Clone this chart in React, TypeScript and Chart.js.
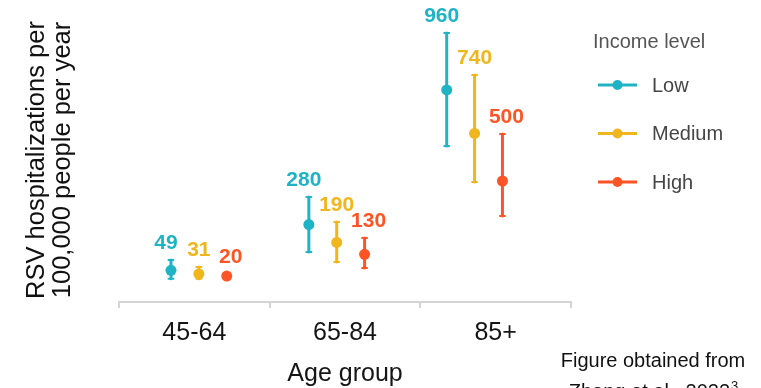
import React, { useEffect, useRef } from "react";
import { Chart, registerables } from "chart.js";

Chart.register(...registerables);

const ageGroups = ["45-64", "65-84", "85+"];
const seriesNames = ["Low", "Medium", "High"];
const seriesColors = ["#1fb4c5", "#efb61d", "#ff5526"];

// central estimates per income level, by age group
const lowValues = [49, 280, 960];
const mediumValues = [31, 190, 740];
const highValues = [20, 130, 500];

// uncertainty intervals (lower / upper)
const lowLower = [6, 141, 677];
const lowUpper = [101, 419, 1247];
const mediumLower = [7, 91, 495];
const mediumUpper = [66, 293, 1035];
const highLower = [13, 61, 323];
const highUpper = [28, 212, 737];

const legendTitle = "Income level";
const yTitle = ["RSV hospitalizations per", "100,000 people per year"];
const xTitle = "Age group";
const noteLines = ["Figure obtained from", "Zheng et al., 2022"];
const noteSup = "3";

// x positions (in category units) where the dot groups sit, and dodge between income levels
const groupPositions = [0.03, 0.945, 1.86];
const dodge = 0.185;
const labelShift = [-5, 0, 4];

const FONT = "'Liberation Sans', Arial, Helvetica, sans-serif";

const values = [lowValues, mediumValues, highValues];
const lowers = [lowLower, mediumLower, highLower];
const uppers = [lowUpper, mediumUpper, highUpper];

const xOf = (si: number, gi: number) => groupPositions[gi] + (si - 1) * dodge;

const errorBarPlugin = {
  id: "errorBars",
  beforeDatasetsDraw(chart: any) {
    const { ctx } = chart;
    const xs = chart.scales.x;
    const ys = chart.scales.y;
    ctx.save();
    values.forEach((vals, si) => {
      vals.forEach((_v, gi) => {
        const px = xs.getPixelForValue(xOf(si, gi));
        const top = ys.getPixelForValue(uppers[si][gi]);
        const bot = ys.getPixelForValue(lowers[si][gi]);
        ctx.strokeStyle = seriesColors[si];
        ctx.lineCap = "round";
        ctx.lineWidth = 3;
        ctx.beginPath();
        ctx.moveTo(px, top);
        ctx.lineTo(px, bot);
        ctx.stroke();
        ctx.lineWidth = 2;
        ctx.beginPath();
        ctx.moveTo(px - 2.5, top);
        ctx.lineTo(px + 2.5, top);
        ctx.moveTo(px - 2.5, bot);
        ctx.lineTo(px + 2.5, bot);
        ctx.stroke();
      });
    });
    ctx.restore();
  },
  afterDatasetsDraw(chart: any) {
    const { ctx } = chart;
    const xs = chart.scales.x;
    const ys = chart.scales.y;
    ctx.save();
    ctx.font = `bold 21px ${FONT}`;
    ctx.textAlign = "center";
    ctx.textBaseline = "middle";
    values.forEach((vals, si) => {
      vals.forEach((v, gi) => {
        const px = xs.getPixelForValue(xOf(si, gi)) + labelShift[si];
        const top = ys.getPixelForValue(uppers[si][gi]);
        ctx.fillStyle = seriesColors[si];
        ctx.fillText(String(v), px, top - 17);
      });
    });
    ctx.restore();
  },
};

const legendPlugin = {
  id: "customLegend",
  afterDraw(chart: any) {
    const { ctx } = chart;
    ctx.save();
    ctx.textBaseline = "middle";
    ctx.textAlign = "left";
    ctx.fillStyle = "#555555";
    ctx.font = `20px ${FONT}`;
    ctx.fillText(legendTitle, 593, 42);
    chart.data.datasets.forEach((ds: any, i: number) => {
      const y = 85 + i * 48.5;
      ctx.strokeStyle = ds.backgroundColor;
      ctx.lineWidth = 3;
      ctx.beginPath();
      ctx.moveTo(598, y);
      ctx.lineTo(637, y);
      ctx.stroke();
      ctx.fillStyle = ds.backgroundColor;
      ctx.beginPath();
      ctx.arc(617.5, y, 5, 0, Math.PI * 2);
      ctx.fill();
      ctx.fillStyle = "#454545";
      ctx.font = `20px ${FONT}`;
      ctx.fillText(ds.label, 652, y + 1);
    });
    // source note
    ctx.fillStyle = "#111111";
    ctx.textBaseline = "alphabetic";
    ctx.textAlign = "center";
    ctx.font = `20px ${FONT}`;
    ctx.fillText(noteLines[0], 653, 367);
    const w2 = ctx.measureText(noteLines[1]).width;
    ctx.font = `13px ${FONT}`;
    const ws = ctx.measureText(noteSup).width;
    const start = 653 - (w2 + ws) / 2;
    ctx.textAlign = "left";
    ctx.font = `20px ${FONT}`;
    ctx.fillText(noteLines[1], start, 398);
    ctx.font = `13px ${FONT}`;
    ctx.fillText(noteSup, start + w2 + 1, 390);
    ctx.restore();
  },
};

export default function App() {
  const ref = useRef<HTMLCanvasElement | null>(null);
  useEffect(() => {
    document.body.style.margin = "0";
    const canvas = ref.current;
    if (!canvas) return;
    const chart = new Chart(canvas, {
      type: "scatter",
      data: {
        datasets: values.map((vals, si) => ({
          label: seriesNames[si],
          data: vals.map((v, gi) => ({ x: xOf(si, gi), y: v })),
          backgroundColor: seriesColors[si],
          borderColor: seriesColors[si],
          pointRadius: 5.5,
          pointHoverRadius: 5.5,
          borderWidth: 0,
          xAxisID: "x",
          yAxisID: "y",
        })),
      },
      options: {
        animation: false,
        responsive: false,
        layout: { padding: { top: 18, right: 190, bottom: 0, left: 0 } },
        plugins: {
          legend: { display: false },
          tooltip: { enabled: false },
          title: { display: false },
        },
        scales: {
          x: { type: "linear", min: -0.5, max: 2.5, display: false },
          xc: {
            type: "category",
            labels: ageGroups,
            position: "bottom",
            offset: true,
            grid: {
              offset: true,
              drawOnChartArea: false,
              tickLength: 6,
              color: "#d4d4d4",
              lineWidth: 2,
            },
            border: { display: true, color: "#d4d4d4", width: 2 },
            ticks: {
              font: { size: 25, family: FONT, lineHeight: 1.2 },
              color: "#151515",
              padding: 10,
              maxRotation: 0,
              autoSkip: false,
            },
            title: {
              display: true,
              text: xTitle,
              font: { size: 25, family: FONT, lineHeight: 1 },
              color: "#151515",
              padding: { top: 4, bottom: 1 },
            },
          },
          y: {
            type: "linear",
            min: -111,
            max: 1323,
            grid: { display: false, drawTicks: false },
            border: { display: false },
            ticks: { display: false },
            title: {
              display: true,
              text: yTitle,
              font: { size: 25.5, family: FONT, lineHeight: 1.02 },
              color: "#111111",
              padding: { top: 24, bottom: 0 },
            },
            afterFit(scale: any) {
              scale.width = 119;
            },
          },
        },
      } as any,
      plugins: [errorBarPlugin, legendPlugin],
    });
    return () => chart.destroy();
  }, []);
  return (
    <div style={{ position: "absolute", left: 0, top: 0, width: 761, height: 388, background: "#fff" }}>
      <canvas ref={ref} width={761} height={388} style={{ display: "block" }} />
    </div>
  );
}
